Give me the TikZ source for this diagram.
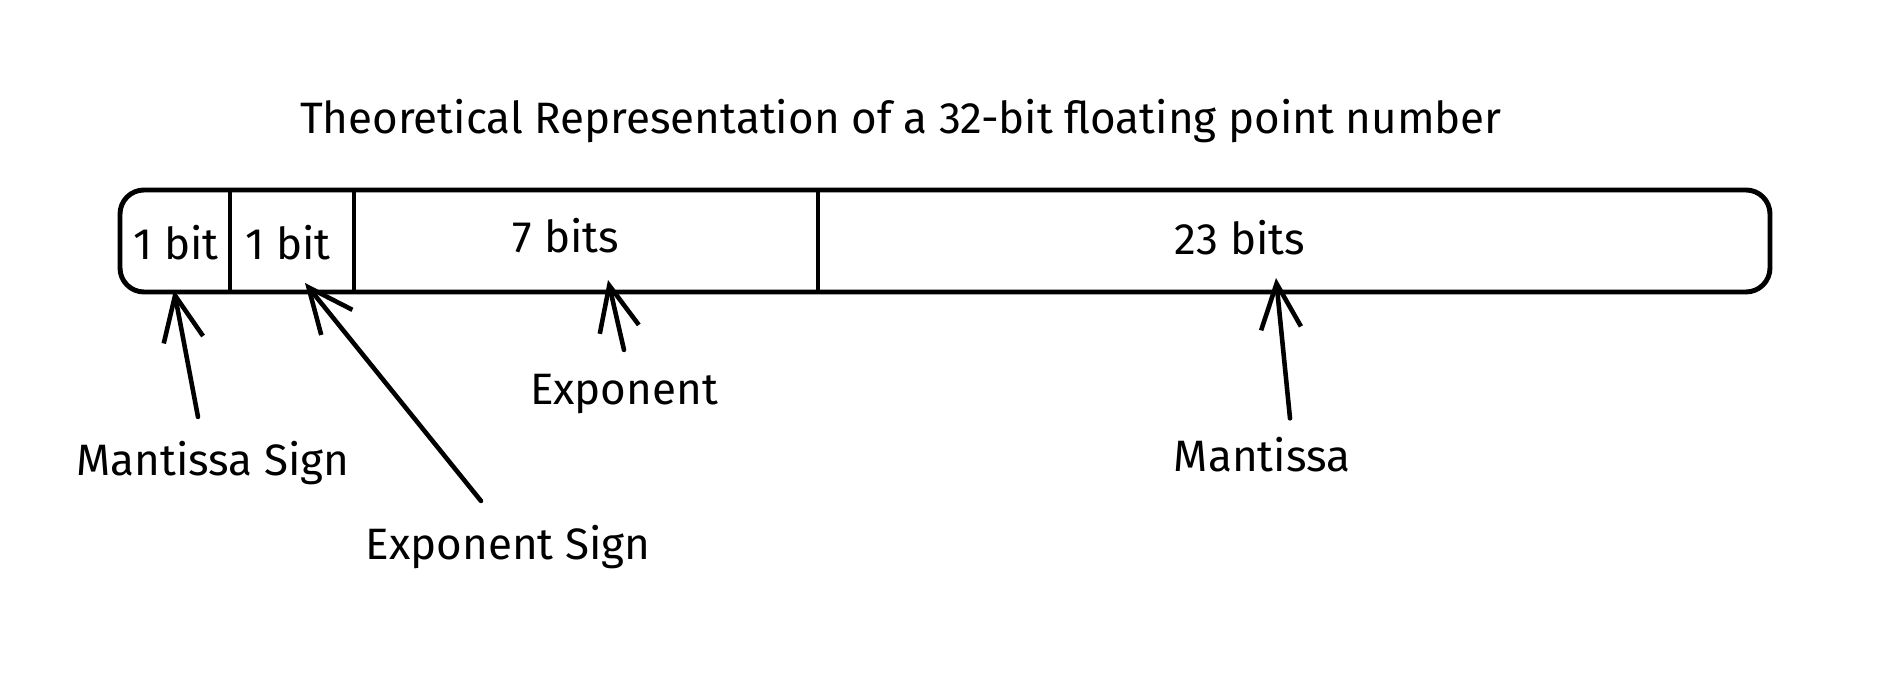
\documentclass[tikz,border=0pt]{standalone}
\usepackage{fontspec}
\setmainfont{Fira Sans}
\usetikzlibrary{arrows.meta}

\tikzset{
	txt/.style={font=\fontsize{12.5}{15}\selectfont, inner sep=1pt},
	arr/.style={-{Straight Barb[length=4.5mm,width=4mm]}, line width=1.3pt, line cap=round},
}

\begin{document}
\begin{tikzpicture}[x=0.01cm, y=-0.01cm, line join=round]
	\useasboundingbox (0, 0) rectangle (1878, 698);

	% title
	\node[txt] (title) at (901, 121) {Theoretical Representation of a 32-bit floating point number};

	% register
	\draw[line width=1.4pt, rounded corners=0.24cm] (120, 190) rectangle (1770, 292);
	\foreach \x in {230, 354, 818}
		\draw[line width=1.4pt] (\x, 190) -- (\x, 292);

	% cells
	\node[txt] (msbit) at (176, 243) {1 bit};
	\node[txt] (esbit) at (288, 243) {1 bit};
	\node[txt] (expbits) at (566, 236) {7 bits};
	\node[txt] (manbits) at (1240, 238) {23 bits};

	% tips of the arrows
	\coordinate (msTip) at (174, 290);
	\coordinate (esTip) at (305, 283);
	\coordinate (expTip) at (608, 280);
	\coordinate (manTip) at (1276, 278);

	% labels
	\node[txt] (msign) at (213, 463) {Mantissa Sign};
	\node[txt] (esign) at (508, 547) {Exponent Sign};
	\node[txt] (expo) at (624, 394) {Exponent};
	\node[txt] (mant) at (1262, 455) {Mantissa};

	% arrows
	\draw[arr] ([xshift=-0.15cm, yshift=0.2cm]msign.north) -- (msTip);
	\draw[arr] ([xshift=-0.27cm, yshift=0.2cm]esign.north) -- (esTip);
	\draw[arr] ([yshift=0.2cm]expo.north) -- (expTip);
	\draw[arr] ([xshift=0.28cm, yshift=0.15cm]mant.north) -- (manTip);
\end{tikzpicture}
\end{document}
